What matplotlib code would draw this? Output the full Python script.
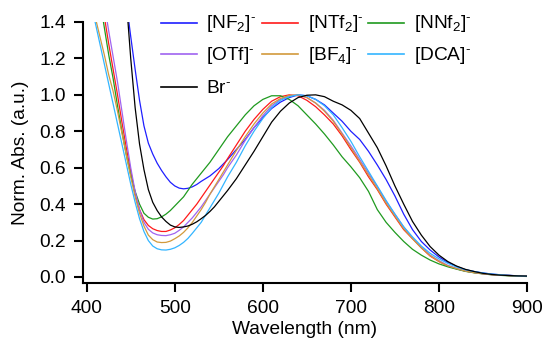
import matplotlib
matplotlib.use("Agg")
import matplotlib.pyplot as plt
from matplotlib.lines import Line2D

plt.rcParams['font.family'] = ['Liberation Sans', 'DejaVu Sans']
plt.rcParams['mathtext.fontset'] = 'custom'
plt.rcParams['mathtext.rm'] = 'Liberation Sans'
plt.rcParams['mathtext.it'] = 'Liberation Sans'
plt.rcParams['mathtext.default'] = 'regular'

wavelength = list(range(400, 561, 5)) + list(range(570, 901, 10))

nf2 = [3.5, 3.25, 3.0, 2.75, 2.5, 2.3, 2.1, 1.9, 1.7, 1.51, 1.32, 1.14, 0.97, 0.83, 0.735, 0.675,
       0.625, 0.585, 0.55, 0.52, 0.50, 0.488, 0.484, 0.487, 0.495, 0.508, 0.525, 0.54, 0.555, 0.575,
       0.595, 0.62, 0.645,
       0.70, 0.755, 0.82, 0.875, 0.925, 0.96, 0.985, 1.0, 0.995, 0.975, 0.945, 0.90, 0.855,
       0.80, 0.755, 0.69, 0.615, 0.535, 0.445, 0.345, 0.26, 0.195, 0.148, 0.11, 0.08, 0.058, 0.04,
       0.03, 0.022, 0.016, 0.012, 0.009, 0.006, 0.004]
ntf2 = [2.05, 1.89, 1.74, 1.58, 1.43, 1.28, 1.14, 1.0, 0.85, 0.71, 0.58, 0.46, 0.37, 0.315, 0.283,
        0.265, 0.255, 0.25, 0.25, 0.258, 0.27, 0.288, 0.31, 0.34, 0.37, 0.40, 0.435, 0.47, 0.505,
        0.54, 0.575, 0.61, 0.65,
        0.725, 0.80, 0.865, 0.92, 0.965, 0.99, 1.0, 0.995, 0.97, 0.935, 0.89, 0.84,
        0.775, 0.70, 0.63, 0.55, 0.48, 0.40, 0.33, 0.26, 0.21, 0.16, 0.115, 0.085, 0.06, 0.045,
        0.032, 0.024, 0.018, 0.013, 0.010, 0.008, 0.006, 0.004]
nnf2 = [1.98, 1.83, 1.67, 1.52, 1.37, 1.22, 1.09, 0.94, 0.80, 0.67, 0.56, 0.47, 0.40, 0.35, 0.328,
        0.318, 0.32, 0.33, 0.345, 0.365, 0.39, 0.415, 0.44, 0.475, 0.51, 0.54, 0.57, 0.60, 0.63,
        0.665, 0.70, 0.735, 0.77,
        0.83, 0.89, 0.94, 0.975, 0.995, 0.995, 0.975, 0.94, 0.89, 0.84, 0.785, 0.725,
        0.66, 0.605, 0.545, 0.47, 0.37, 0.30, 0.245, 0.195, 0.152, 0.12, 0.093, 0.072, 0.056, 0.043,
        0.031, 0.023, 0.017, 0.012, 0.009, 0.006, 0.004, 0.003]
otf = [2.1, 1.95, 1.80, 1.65, 1.50, 1.35, 1.21, 1.07, 0.91, 0.75, 0.60, 0.47, 0.37, 0.30, 0.262,
       0.242, 0.232, 0.228, 0.227, 0.232, 0.24, 0.256, 0.275, 0.30, 0.325, 0.355, 0.385, 0.42, 0.455,
       0.49, 0.525, 0.56, 0.60,
       0.67, 0.75, 0.82, 0.885, 0.94, 0.975, 0.995, 1.0, 0.985, 0.955, 0.915, 0.86,
       0.79, 0.72, 0.645, 0.57, 0.495, 0.415, 0.345, 0.275, 0.215, 0.165, 0.12, 0.09, 0.064, 0.047,
       0.034, 0.025, 0.018, 0.013, 0.010, 0.008, 0.006, 0.004]
bf4 = [1.63, 1.52, 1.42, 1.32, 1.22, 1.11, 1.02, 0.91, 0.79, 0.67, 0.55, 0.44, 0.35, 0.28, 0.23,
       0.205, 0.192, 0.189, 0.19, 0.197, 0.21, 0.225, 0.245, 0.27, 0.30, 0.335, 0.37, 0.41, 0.455,
       0.495, 0.535, 0.575, 0.615,
       0.695, 0.77, 0.84, 0.90, 0.95, 0.98, 0.997, 1.0, 0.985, 0.955, 0.91, 0.855,
       0.785, 0.71, 0.635, 0.56, 0.485, 0.405, 0.335, 0.265, 0.21, 0.16, 0.117, 0.086, 0.061, 0.046,
       0.033, 0.024, 0.018, 0.013, 0.010, 0.008, 0.006, 0.004]
dca = [1.61, 1.50, 1.39, 1.28, 1.17, 1.06, 0.95, 0.84, 0.73, 0.62, 0.51, 0.41, 0.32, 0.25, 0.20,
       0.17, 0.155, 0.149, 0.148, 0.152, 0.16, 0.173, 0.19, 0.212, 0.24, 0.27, 0.30, 0.34, 0.38,
       0.42, 0.46, 0.505, 0.55,
       0.63, 0.72, 0.80, 0.87, 0.93, 0.97, 0.99, 1.0, 0.995, 0.975, 0.94, 0.89,
       0.82, 0.745, 0.66, 0.58, 0.50, 0.42, 0.345, 0.275, 0.22, 0.17, 0.13, 0.10, 0.075, 0.055,
       0.04, 0.03, 0.022, 0.016, 0.012, 0.009, 0.006, 0.004]
br = [5.0, 4.6, 4.2, 3.8, 3.4, 3.0, 2.6, 2.2, 1.85, 1.52, 1.2, 0.93, 0.73, 0.59, 0.48,
      0.41, 0.365, 0.33, 0.305, 0.285, 0.275, 0.272, 0.275, 0.28, 0.29, 0.303, 0.32, 0.338, 0.36,
      0.385, 0.415, 0.445, 0.475,
      0.54, 0.615, 0.69, 0.77, 0.85, 0.91, 0.955, 0.985, 0.998, 1.0, 0.99, 0.965,
      0.945, 0.915, 0.87, 0.79, 0.71, 0.61, 0.50, 0.40, 0.305, 0.23, 0.167, 0.12, 0.085, 0.06,
      0.042, 0.03, 0.02, 0.014, 0.010, 0.008, 0.006, 0.005]

labels = [r'[NF$_2$]$^{\text{-}}$', r'[NTf$_2$]$^{\text{-}}$', r'[NNf$_2$]$^{\text{-}}$',
          r'[OTf]$^{\text{-}}$', r'[BF$_4$]$^{\text{-}}$', r'[DCA]$^{\text{-}}$', r'Br$^{\text{-}}$']
series = [nf2, ntf2, nnf2, otf, bf4, dca, br]
colors = ['#1f1fff', '#ff1a1a', '#1f9a1f', '#a064f0', '#d29a3c', '#33b5ff', '#000000']

W, H = 544, 340
fs = 13.8
fig = plt.figure(figsize=(W / 100, H / 100), dpi=100)
ax = fig.add_axes([83 / W, 1 - 283 / H, (527 - 83) / W, (283 - 22) / H])

for ys, c in zip(series, colors):
    ax.plot(wavelength, ys, color=c, lw=0.9)

ax.set_xlim(395.8, 900)
ax.set_ylim(-0.033, 1.4)
ax.set_xticks([400, 500, 600, 700, 800, 900])
ax.set_yticks([0.0, 0.2, 0.4, 0.6, 0.8, 1.0, 1.2, 1.4])
ax.set_yticklabels(['0.0', '0.2', '0.4', '0.6', '0.8', '1.0', '1.2', '1.4'])
for s in ['top', 'right']:
    ax.spines[s].set_visible(False)
for s in ['left', 'bottom']:
    ax.spines[s].set_linewidth(1.5)
ax.tick_params(direction='out', length=6.5, width=1.5, labelsize=fs, pad=6)
ax.set_xlabel('Wavelength (nm)', fontsize=fs)
ax.set_ylabel('Norm. Abs. (a.u.)', fontsize=fs)
ax.xaxis.set_label_coords(0.5, -0.1475)
ax.yaxis.set_label_coords(-0.1227, 0.5)

# legend laid out in 3 columns x 3 rows
col_x = [161, 262, 368]
row_y = [22.7, 54.3, 87.3]
positions = [(0, 0), (1, 0), (2, 0), (0, 1), (1, 1), (2, 1), (0, 2)]
for lab, c, (ci, ri) in zip(labels, colors, positions):
    x0 = col_x[ci]
    y = row_y[ri]
    fig.add_artist(Line2D([x0 / W, (x0 + 36) / W], [1 - y / H, 1 - y / H],
                          transform=fig.transFigure, color=c, lw=1.2))
    fig.text((x0 + 45.5) / W, 1 - (y + 5.3) / H, lab, fontsize=fs, va='baseline', ha='left')

fig.savefig('out.png', dpi=100)
